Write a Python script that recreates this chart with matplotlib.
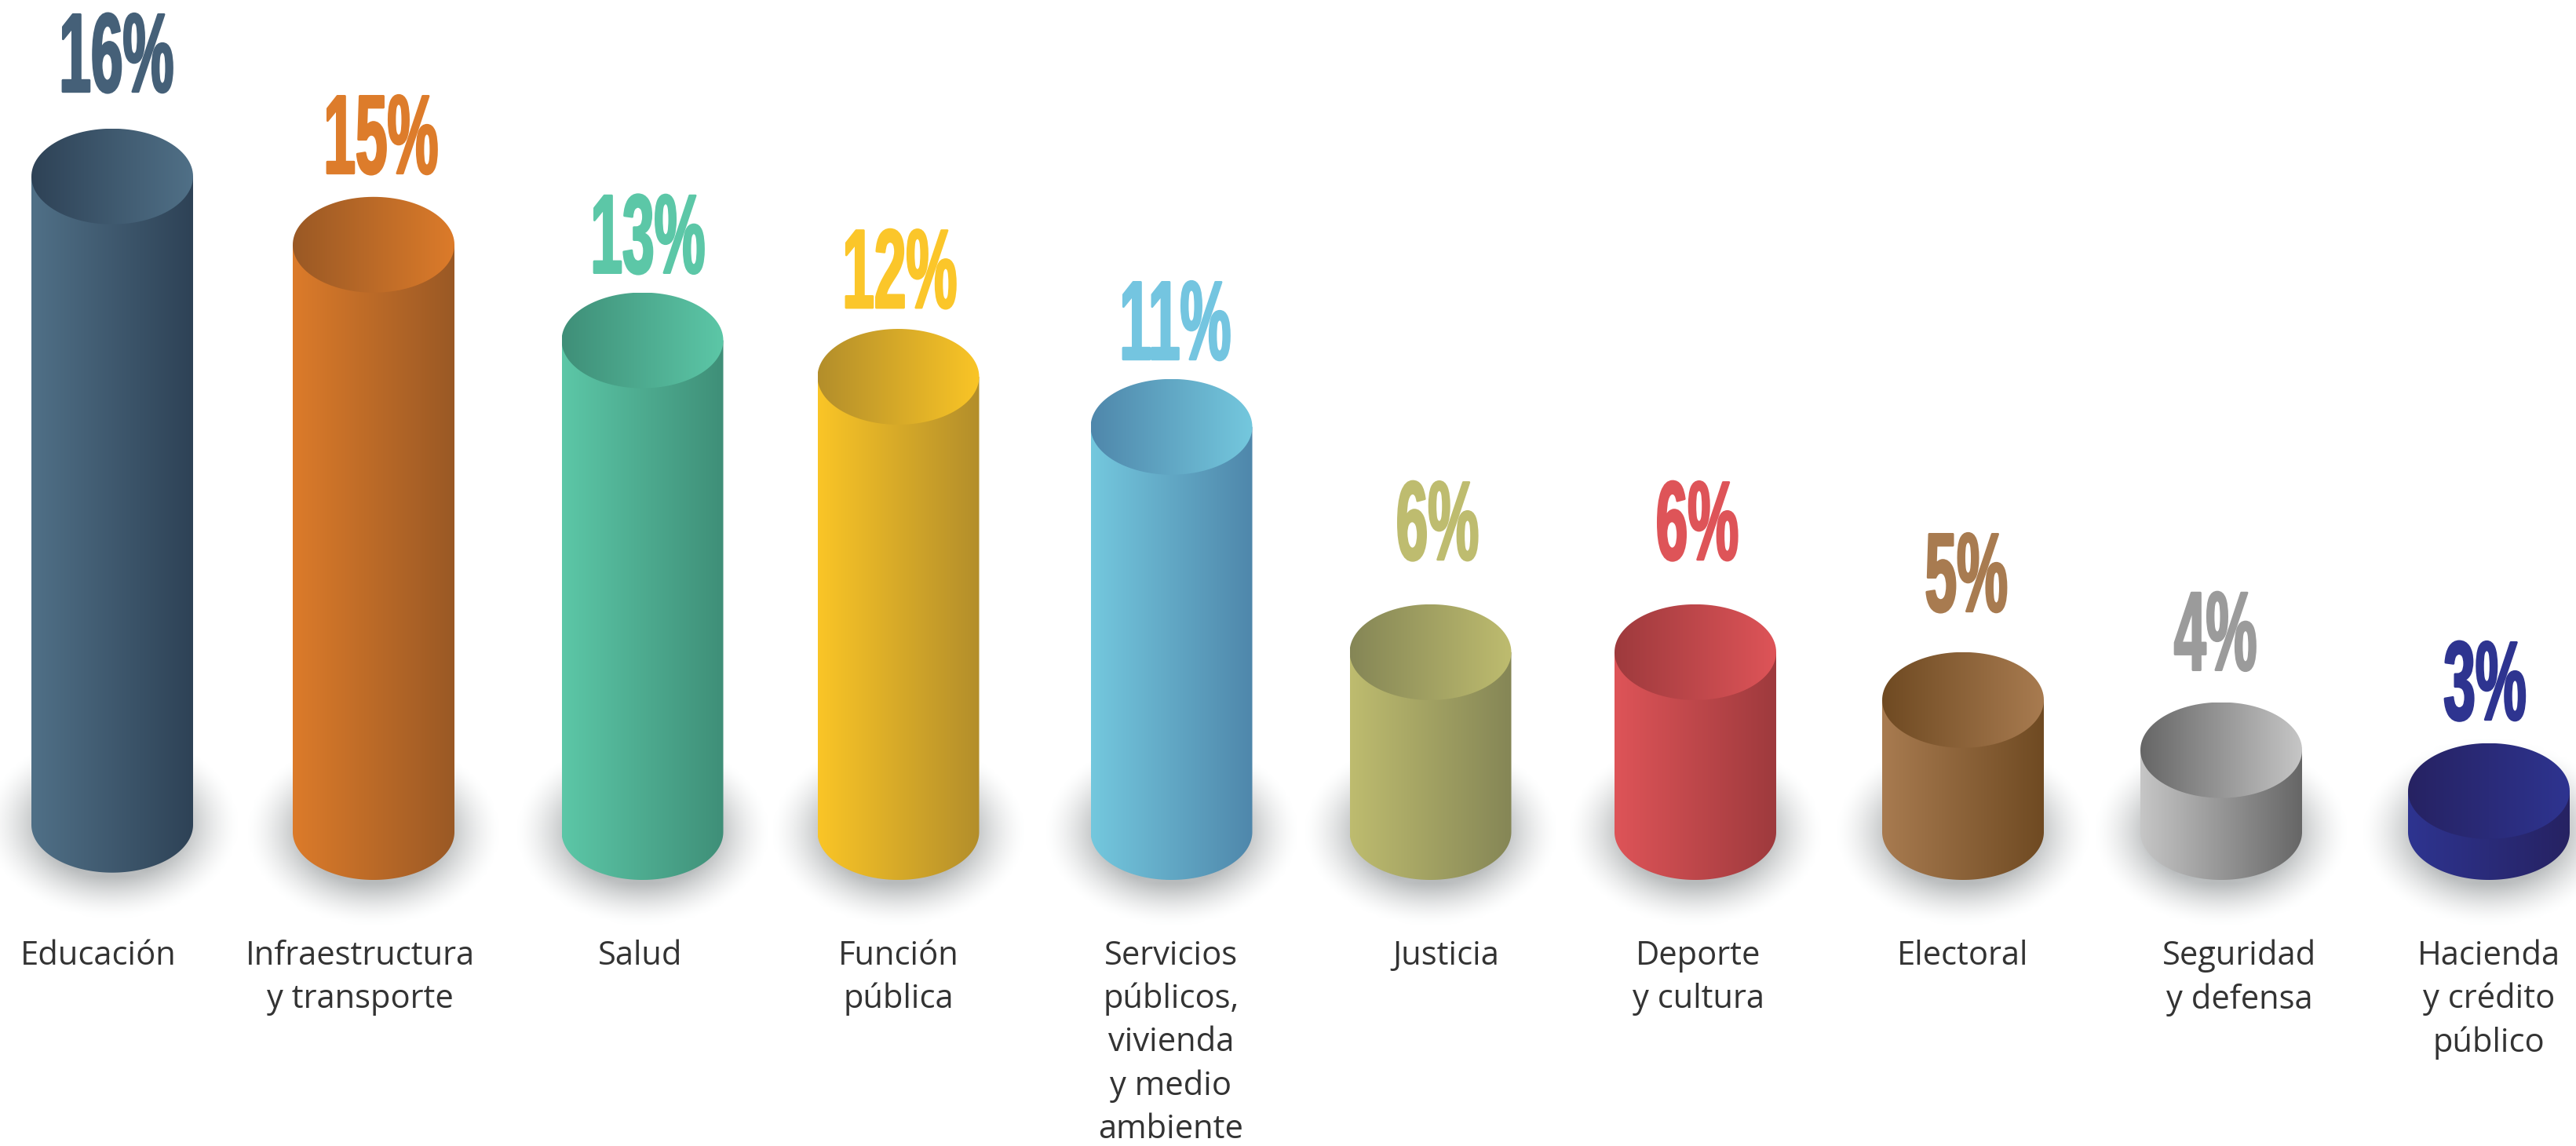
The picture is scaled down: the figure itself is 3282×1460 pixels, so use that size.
# Cilindros de participacion por sector
import numpy as np
import matplotlib
matplotlib.use("Agg")
import matplotlib.pyplot as plt
import matplotlib.patheffects as pe
from matplotlib.colors import LinearSegmentedColormap, to_rgb
from matplotlib.patches import PathPatch
from matplotlib.path import Path
from matplotlib.transforms import Affine2D

categories = ["Educación", "Infraestructura\ny transporte", "Salud", "Función\npública",
              "Servicios\npúblicos,\nvivienda\ny medio\nambiente", "Justicia", "Deporte\ny cultura",
              "Electoral", "Seguridad\ny defensa", "Hacienda\ny crédito\npúblico"]
pct_labels = ["16%", "15%", "13%", "12%", "11%", "6%", "6%", "5%", "4%", "3%"]
# tops of the cylinders (the base is not at zero)
values = [16.5, 15.0, 12.9, 12.1, 11.0, 6.05, 6.05, 5.0, 3.9, 3.0]
bases = [2.26, 2.1, 2.1, 2.1, 2.1, 2.1, 2.1, 2.1, 2.1, 2.1]

light = ["#507087", "#DC7B2A", "#5CC7A7", "#FAC526", "#74C8DE",
         "#BEBC6F", "#DE5458", "#A87B50", "#C6C6C6", "#2E3490"]
dark = ["#2E4256", "#9A5925", "#3F8F78", "#B38E2B", "#4F87AB",
        "#858656", "#9E3A3D", "#6F4A22", "#666666", "#262262"]
text_colors = ["#456078", "#DD7C2B", "#5CC7A7", "#FBC62A", "#74C5E0",
               "#BEBC6F", "#DE5458", "#A87B50", "#9B9B9B", "#2E3490"]

# layout, in pixels of the 3282x1460 figure
centers = [143, 476, 818.5, 1144.5, 1492.5, 1822.5, 2160, 2501, 2830, 3171]
pct_x = [147, 484, 824, 1145, 1496, 1831, 2162, 2505, 2823, 3166]
pct_gap = [47, 30, 25, 27, 25, 57, 57, 52, 41, 30]
label_x = [125, 459, 816, 1145, 1492, 1842, 2164, 2501, 2853, 3171]
half_w = 103
px_per_pct = 58.0
half_h = 61 / px_per_pct


class SqueezeX(pe.AbstractPathEffect):
    # no condensed display font here, so narrow the glyphs when drawing
    def __init__(self, sx, grow=0.0):
        super().__init__()
        self.sx = sx
        self.grow = grow

    def draw_path(self, renderer, gc, tpath, affine, rgbFace=None):
        cx = tpath.get_extents().x0 + tpath.get_extents().width / 2
        tr = Affine2D().translate(-cx, 0).scale(self.sx, 1).translate(cx, 0) + affine
        gc0 = renderer.new_gc()
        gc0.copy_properties(gc)
        gc0.set_linewidth(self.grow)
        gc0.set_foreground(rgbFace)
        renderer.draw_path(gc0, tpath, tr, rgbFace)
        gc0.restore()


fig = plt.figure(figsize=(32.82, 14.60), dpi=100, facecolor="white")
ax = fig.add_axes([0, 0, 1, 1])
ax.axis("off")

t = np.linspace(0, np.pi, 120)
for i in range(len(values)):
    cx = centers[i]
    x0, x1 = cx - half_w, cx + half_w
    top, base = values[i], bases[i]
    ext = (x0, x1, base - half_h, top + half_h)
    cmap = LinearSegmentedColormap.from_list("c%d" % i, [light[i], dark[i]])
    grad = np.linspace(0, 1, 256)[None, :]

    # soft shadow around the foot
    sx = np.linspace(cx - 190, cx + 190, 48)
    sy = np.linspace(base - 2.4, base + 2.4, 36)
    X, Y = np.meshgrid(sx, sy)
    r = np.sqrt(((X - cx) / half_w) ** 2 + ((Y - base) * px_per_pct / 76) ** 2)
    rgba = np.zeros(X.shape + (4,))
    rgba[..., :3] = to_rgb("#7F8486")
    rgba[..., 3] = 0.55 * np.clip((1.6 - r) / 0.7, 0, 1) ** 1.5
    ax.imshow(rgba, extent=(sx[0], sx[-1], sy[0], sy[-1]), origin="lower", aspect="auto",
              interpolation="bilinear", zorder=1)

    # body
    bx = np.r_[x0, cx + half_w * -np.cos(t), x1]
    by = np.r_[top, base - half_h * np.sin(t), top]
    im = ax.imshow(grad, extent=ext, cmap=cmap, aspect="auto", zorder=2)
    im.set_clip_path(PathPatch(Path(np.c_[bx, by]), transform=ax.transData))

    # lid, gradient runs the other way
    tt = np.linspace(0, 2 * np.pi, 240)
    lid = Path(np.c_[cx + half_w * np.cos(tt), top + half_h * np.sin(tt)])
    im2 = ax.imshow(grad[:, ::-1], extent=(x0, x1, top - half_h, top + half_h), cmap=cmap,
                    aspect="auto", zorder=3)
    im2.set_clip_path(PathPatch(lid, transform=ax.transData))

    ax.text(pct_x[i], top + half_h + pct_gap[i] / px_per_pct, pct_labels[i], color=text_colors[i],
            family="Liberation Sans", weight="bold", fontsize=103, ha="center", va="baseline",
            path_effects=[SqueezeX(0.51, 2.0)], zorder=4)

    ax.text(label_x[i], -0.262, categories[i], color="#333333", family="Open Sans",
            fontsize=30, ha="center", va="top", linespacing=1.4, zorder=4)

ax.set_xlim(0, 3282)
ax.set_ylim(2.1 - 400 / px_per_pct, 2.1 + 1060 / px_per_pct)
fig.savefig("out.png", dpi=100, facecolor="white")
